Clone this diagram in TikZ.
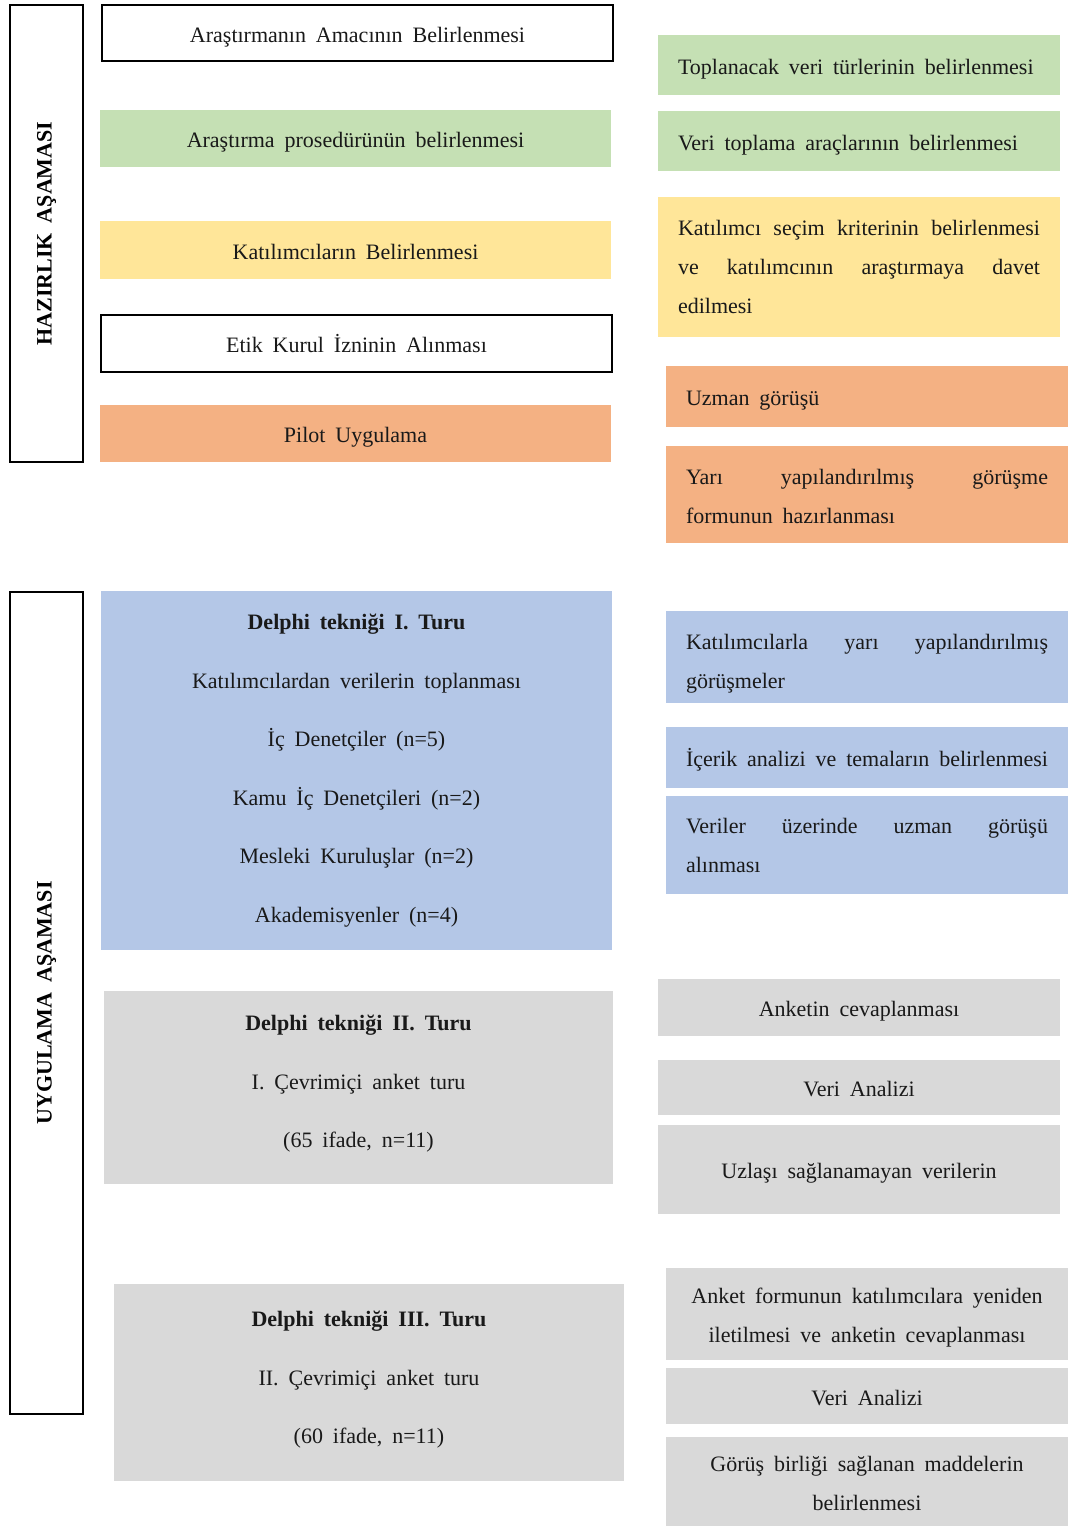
\documentclass[tikz,border=0pt]{standalone}
\usepackage{fontspec}
\setmainfont[WordSpace=1.8]{Liberation Serif}
\definecolor{grn}{HTML}{C5E0B4}
\definecolor{ylw}{HTML}{FFE699}
\definecolor{org}{HTML}{F4B183}
\definecolor{blu}{HTML}{B4C7E7}
\definecolor{gry}{HTML}{D9D9D9}
\tikzset{
  txt/.style={font=\fontsize{22}{39}\selectfont, text=black!90},
  oneline/.style={text height=19pt, text depth=1pt},
  frame/.style={draw=black, line width=2.2pt, fill=white, inner sep=0pt},
  vlabel/.style={rotate=90, font=\fontsize{22}{26}\selectfont\bfseries},
  cbox/.style={txt, oneline, inner sep=0pt, align=center, minimum width=511pt},
  wbox/.style={cbox, draw=black, line width=2.2pt, fill=white},
  rbox/.style={txt, inner ysep=0pt, inner xsep=20pt, text width=362pt, align=justify},
  rcbox/.style={txt, inner sep=0pt, align=center, minimum width=402pt},
  dbox/.style={txt, font=\fontsize{22}{58.5}\selectfont, inner sep=0pt, align=center}
}
\begin{document}
\begin{tikzpicture}[x=1pt, y=-1pt]
\useasboundingbox (0,0) rectangle (1070,1526);

% phase frames with rotated titles
\node[frame, minimum width=73pt, minimum height=457pt] (hz) at (46.5,233.5) {};
\node[vlabel] (hzt) at (hz.center) {HAZIRLIK AŞAMASI};
\node[frame, minimum width=73pt, minimum height=822pt] (uy) at (46.5,1003) {};
\node[vlabel] (uyt) at (uy.center) {UYGULAMA AŞAMASI};

% preparation phase, left column
\node[wbox, minimum height=56pt] (a1) at (357.5,33) {Araştırmanın Amacının Belirlenmesi};
\node[cbox, fill=grn, minimum height=57pt] (a2) at (355.5,138.5) {Araştırma prosedürünün belirlenmesi};
\node[cbox, fill=ylw, minimum height=58pt] (a3) at (355.5,250) {Katılımcıların Belirlenmesi};
\node[wbox, minimum height=57pt] (a4) at (356.5,343.5) {Etik Kurul İzninin Alınması};
\node[cbox, fill=org, minimum height=57pt] (a5) at (355.5,433.5) {Pilot Uygulama};

% preparation phase, right column
\node[rbox, oneline, fill=grn, minimum height=60pt] (r1) at (859,65) {Toplanacak veri türlerinin belirlenmesi};
\node[rbox, oneline, fill=grn, minimum height=60pt] (r2) at (859,141) {Veri toplama araçlarının belirlenmesi};
\node[rbox, fill=ylw, minimum height=140pt] (r3) at (859,267) {Katılımcı seçim kriterinin belirlenmesi\linebreak ve katılımcının araştırmaya davet\linebreak edilmesi};
\node[rbox, oneline, fill=org, minimum height=61pt] (r4) at (867,396.5) {Uzman görüşü};
\node[rbox, fill=org, minimum height=97pt] (r5) at (867,494.5) {\rule{0pt}{19pt}Yarı yapılandırılmış görüşme\linebreak formunun hazırlanması};

% implementation phase, Delphi rounds
\node[dbox, fill=blu, minimum width=511pt, minimum height=359pt] (d1) at (356.5,770.5) {\textbf{Delphi tekniği I. Turu}\\Katılımcılardan verilerin toplanması\\İç Denetçiler (n=5)\\Kamu İç Denetçileri (n=2)\\Mesleki Kuruluşlar (n=2)\\Akademisyenler (n=4)};
\node[dbox, fill=gry, minimum width=509pt, minimum height=193pt] (d2) at (358.5,1087.5) {\textbf{Delphi tekniği II. Turu}\\I. Çevrimiçi anket turu\\(65 ifade, n=11)\rule[-12pt]{0pt}{0pt}};
\node[dbox, fill=gry, minimum width=510pt, minimum height=197pt] (d3) at (369,1382.5) {\textbf{Delphi tekniği III. Turu}\\II. Çevrimiçi anket turu\\(60 ifade, n=11)\rule[-10pt]{0pt}{0pt}};

% implementation phase, right column
\node[rbox, fill=blu, minimum height=92pt] (r6) at (867,657) {\rule{0pt}{29pt}Katılımcılarla yarı yapılandırılmış\linebreak görüşmeler};
\node[rbox, oneline, fill=blu, minimum height=61pt] (r7) at (867,757.5) {İçerik analizi ve temaların belirlenmesi};
\node[rbox, fill=blu, minimum height=98pt] (r8) at (867,845) {Veriler üzerinde uzman görüşü\linebreak alınması};
\node[rcbox, oneline, fill=gry, minimum height=57pt] (r9) at (859,1007.5) {Anketin cevaplanması};
\node[rcbox, oneline, fill=gry, minimum height=55pt] (r10) at (859,1087.5) {Veri Analizi};
\node[rcbox, oneline, fill=gry, minimum height=89pt] (r11) at (859,1169.5) {Uzlaşı sağlanamayan verilerin};
\node[rcbox, fill=gry, minimum height=92pt] (r12) at (867,1314) {\rule{0pt}{22pt}Anket formunun katılımcılara yeniden\\iletilmesi ve anketin cevaplanması};
\node[rcbox, oneline, fill=gry, minimum height=56pt] (r13) at (867,1396) {Veri Analizi};
\node[rcbox, fill=gry, minimum height=89pt] (r14) at (867,1481.5) {\rule{0pt}{20pt}Görüş birliği sağlanan maddelerin\\belirlenmesi};
\end{tikzpicture}
\end{document}
